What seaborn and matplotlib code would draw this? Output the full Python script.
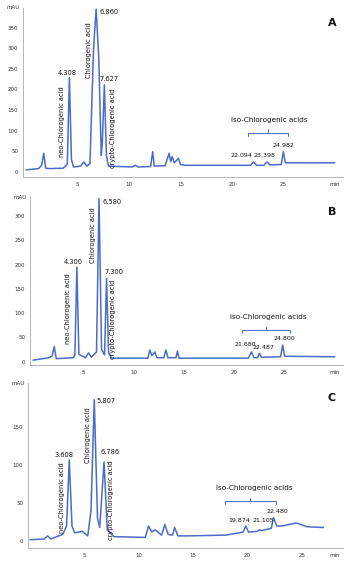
import matplotlib
matplotlib.use("Agg")
import matplotlib.pyplot as plt
import seaborn as sns
import pandas as pd

sns.set_style("white")
plt.rcParams['font.family'] = ['DejaVu Sans']

# ---- Panel A trace (time in min, signal in mAU) ----
a_time = [0, 1.2, 1.5, 1.7, 1.9, 2.3, 3.6, 3.9, 4.0, 4.2, 4.4, 4.6, 5.3, 5.6, 5.9, 6.2,
          6.55, 6.8, 7.05, 7.3, 7.4, 7.6, 7.8, 8.0, 10.3, 10.6, 10.9, 12.1, 12.3, 12.45,
          13.5, 13.9, 14.05, 14.2, 14.4, 14.8, 15.0, 15.5, 21.8, 22.1, 22.4, 23.1, 23.4,
          23.7, 24.8, 25.0, 25.2, 30.0]
a_sig = [5, 8, 16, 45, 9, 8, 9, 16, 20, 229, 30, 12, 14, 24, 14, 20,
         300, 395, 280, 40, 70, 211, 40, 14, 12, 16, 12, 13, 49, 14,
         15, 45, 25, 37, 22, 33, 18, 16, 16, 24, 16, 16, 24,
         17, 18, 49, 22, 22]

# ---- Panel B trace ----
b_time = [0, 1.6, 1.9, 2.1, 2.3, 4.0, 4.15, 4.35, 4.55, 5.2, 5.5, 5.8, 6.3, 6.55, 6.8,
          7.0, 7.1, 7.3, 7.5, 7.8, 11.4, 11.6, 11.8, 12.1, 12.3, 13.0, 13.2, 13.4,
          14.2, 14.35, 14.5, 21.4, 21.7, 21.95, 22.3, 22.5, 22.7, 24.6, 24.8, 25.0, 30.0]
b_sig = [3, 8, 12, 31, 6, 8, 14, 195, 15, 8, 18, 9, 20, 336, 25,
         18, 14, 171, 18, 7, 7, 24, 12, 20, 8, 8, 24, 8,
         8, 22, 7, 7, 20, 8, 8, 17, 9, 10, 34, 11, 10]

# ---- Panel C trace ----
c_time = [0, 1.3, 1.6, 1.9, 3.0, 3.35, 3.6, 3.85, 4.1, 4.8, 5.3, 5.6, 5.9, 6.2, 6.4,
          6.8, 7.1, 7.7, 10.6, 10.9, 11.2, 11.5, 12.1, 12.4, 12.7, 13.1, 13.3, 13.6,
          14.5, 18.0, 19.6, 19.85, 20.1, 20.9, 21.1, 21.3, 22.2, 22.4, 22.7, 23.2,
          24.5, 25.5, 27.0]
c_sig = [2, 3, 7, 3, 9, 20, 107, 20, 11, 13, 7, 40, 186, 30, 18,
         104, 15, 6, 5, 20, 12, 15, 8, 22, 9, 8, 18, 7,
         7, 8, 12, 20, 12, 13, 15, 14, 17, 31, 20, 20,
         24, 19, 18]

# ---- Peak labels ----
main_names = ["neo-Chlorogenic acid", "Chlorogenic acid", "crypto-Chlorogenic acid"]
a_main_rt = ["4.308", "6.860", "7.627"]
b_main_rt = ["4.300", "6.580", "7.300"]
c_main_rt = ["3.608", "5.807", "6.786"]
iso_name = "iso-Chlorogenic acids"
a_iso_rt = ["22.094", "23.398", "24.982"]
b_iso_rt = ["21.680", "22.487", "24.800"]
c_iso_rt = ["19.874", "21.105", "22.480"]
panel_letters = ["A", "B", "C"]

blue = "#4a6cc8"
fig = plt.figure(figsize=(3.5, 5.65), dpi=100)

panels = [
    dict(rect=[0.066, 0.687, 0.914, 0.299], t=a_time, s=a_sig, ylim=(-12, 398),
         yt=[0, 50, 100, 150, 200, 250, 300, 350], xlim=(-0.3, 30.8), xend=30,
         main=a_main_rt, iso=a_iso_rt,
         namex=[3.5, 6.1, 8.4], namey=[[18, 228], [210, 380], [10, 200]],
         rtpos=[(4.0, 232), (8.1, 382), (8.1, 218)],
         isolab=[(20.9, 34), (23.2, 34), (25.0, 58)],
         br=(21.6, 25.5, 95), brlab=(23.6, 118)),
    dict(rect=[0.086, 0.354, 0.894, 0.297], t=b_time, s=b_sig, ylim=(-7, 339),
         yt=[0, 50, 100, 150, 200, 250, 300], xlim=(-0.3, 30.8), xend=30,
         main=b_main_rt, iso=b_iso_rt,
         namex=[3.5, 6.0, 7.9], namey=[[25, 195], [190, 330], [10, 165]],
         rtpos=[(4.0, 200), (7.8, 322), (8.0, 178)],
         isolab=[(21.1, 30), (22.9, 23), (25.0, 42)],
         br=(20.8, 25.5, 65), brlab=(23.4, 85)),
    dict(rect=[0.080, 0.030, 0.900, 0.292], t=c_time, s=c_sig, ylim=(-9, 208),
         yt=[0, 50, 100, 150], xlim=(-0.2, 28.8), xend=28,
         main=c_main_rt, iso=c_iso_rt,
         namex=[2.9, 5.3, 7.4], namey=[[10, 105], [95, 185], [12, 95]],
         rtpos=[(3.1, 110), (7.0, 180), (7.4, 113)],
         isolab=[(19.2, 24), (21.5, 24), (22.8, 36)],
         br=(17.9, 22.6, 53), brlab=(20.6, 66)),
]

for p, letter in zip(panels, panel_letters):
    ax = fig.add_axes(p["rect"])
    df = pd.DataFrame({"time": p["t"], "signal": p["s"]})
    sns.lineplot(data=df, x="time", y="signal", ax=ax, color=blue, lw=1.1)
    ax.set_xlim(*p["xlim"])
    ax.set_ylim(*p["ylim"])
    xt = [5, 10, 15, 20, 25, p["xend"]]
    ax.set_xticks(xt)
    ax.set_xticklabels([str(v) for v in xt[:-1]] + ["min"])
    ax.set_yticks(p["yt"])
    ax.set_yticklabels([str(v) for v in p["yt"]])
    ax.tick_params(axis="both", labelsize=4, length=2, width=0.5, pad=1.5,
                   colors="#666666", labelcolor="#333333")
    ax.set_xlabel("")
    ax.set_ylabel("")
    for sp in ["top", "right"]:
        ax.spines[sp].set_visible(False)
    for sp in ["left", "bottom"]:
        ax.spines[sp].set_color("#aaaaaa")
        ax.spines[sp].set_linewidth(0.6)
    ax.text(-0.01, 1.0, "mAU", transform=ax.transAxes, ha="right", va="center",
            fontsize=4, color="#333333")
    ax.text(0.965, 0.91, letter, transform=ax.transAxes, ha="center", va="center",
            fontsize=8, fontweight="bold", color="#111111")
    for i in range(3):
        x0 = p["namex"][i]
        y0, y1 = p["namey"][i]
        ax.text(x0, (y0 + y1) / 2, main_names[i], rotation=90, ha="center",
                va="center", fontsize=4.8, color="#111111")
        rx, ry = p["rtpos"][i]
        ax.text(rx, ry, p["main"][i], ha="center", va="bottom", fontsize=4.8,
                color="#111111")
    for i in range(3):
        lx, ly = p["isolab"][i]
        ax.text(lx, ly, p["iso"][i], ha="center", va="bottom", fontsize=4.5,
                color="#111111")
    bx0, bx1, by = p["br"]
    h = (p["ylim"][1] - p["ylim"][0]) * 0.02
    ax.plot([bx0, bx0, bx1, bx1], [by - h, by, by, by - h], color=blue, lw=0.7)
    mid = (bx0 + bx1) / 2
    ax.plot([mid, mid], [by, by + h], color=blue, lw=0.7)
    lx, ly = p["brlab"]
    ax.text(lx, ly, iso_name, ha="center", va="bottom", fontsize=5.2,
            color="#111111")

fig.savefig("out.png", dpi=100)
